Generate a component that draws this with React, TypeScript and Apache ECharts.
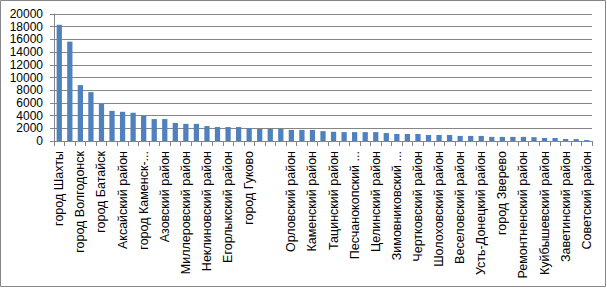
import React, { useEffect, useRef } from "react";
import * as echarts from "echarts";

const categories: string[] = [
  "город Шахты",
  "город Новошахтинск",
  "город Волгодонск",
  "Белокалитвинский район",
  "город Батайск",
  "Сальский район",
  "Аксайский район",
  "Красносулинский район",
  "город Каменск-Шахтинский",
  "Мясниковский район",
  "Азовский район",
  "Октябрьский район",
  "Миллеровский район",
  "Семикаракорский район",
  "Неклиновский район",
  "Зерноградский район",
  "Егорлыкский район",
  "Пролетарский район",
  "город Гуково",
  "Морозовский район",
  "",
  "Цимлянский район",
  "Орловский район",
  "Мартыновский район",
  "Каменский район",
  "Кагальницкий район",
  "Тацинский район",
  "Тарасовский район",
  "Песчанокопский район",
  "Багаевский район",
  "Целинский район",
  "Кашарский район",
  "Зимовниковский район",
  "Константиновский район",
  "Чертковский район",
  "Верхнедонской район",
  "Шолоховский район",
  "Дубовский район",
  "Веселовский район",
  "Боковский район",
  "Усть-Донецкий район",
  "Обливский район",
  "город Зверево",
  "Милютинский район",
  "Ремонтненский район",
  "Волгодонской район",
  "Куйбышевский район",
  "Матвеево-Курганский район",
  "Заветинский район",
  "город Донецк",
  "Советский район",
];

const values: number[] = [
  18300, 15650, 8800, 7700, 5850, 4750, 4600, 4450, 3950, 3450,
  3450, 2850, 2700, 2700, 2350, 2200, 2200, 2200, 2000, 1900,
  1900, 1900, 1750, 1750, 1750, 1550, 1450, 1400, 1400, 1400,
  1400, 1250, 1100, 1100, 1100, 950, 950, 950, 800, 800,
  800, 650, 650, 650, 650, 600, 480, 470, 320, 300,
  150,
];

const yMin = 0;
const yMax = 20000;
const yStep = 2000;

function shorten(v: string): string {
  if (v.length < 20) return v;
  const h = v.lastIndexOf("-");
  const s = v.lastIndexOf(" ");
  if (h > s) return v.slice(0, h + 1) + "...";
  return v.slice(0, s) + " ...";
}

export default function App() {
  const ref = useRef<HTMLDivElement>(null);
  useEffect(() => {
    if (!ref.current) return;
    const chart = echarts.init(ref.current, null, { renderer: "svg" });
    const font = "'Liberation Sans', Arial, sans-serif";
    chart.setOption({
      animation: false,
      backgroundColor: "#ffffff",
      grid: { left: 54, right: 15, top: 14, bottom: 148 },
      graphic: [
        {
          type: "rect",
          shape: { x: 0.5, y: 0.5, width: 605, height: 286 },
          style: { fill: "none", stroke: "#868686", lineWidth: 1 },
          silent: true,
        },
      ],
      xAxis: {
        type: "category",
        data: categories,
        boundaryGap: true,
        axisLine: { show: true, lineStyle: { color: "#868686", width: 1 } },
        axisTick: { show: true, interval: 0, length: 5, lineStyle: { color: "#868686" } },
        axisLabel: {
          interval: 1,
          rotate: 90,
          margin: 10,
          fontSize: 12.5,
          fontFamily: font,
          color: "#000000",
          formatter: (v: string) => shorten(v),
        },
        splitLine: { show: false },
      },
      yAxis: {
        type: "value",
        min: yMin,
        max: yMax,
        interval: yStep,
        axisLine: { show: true, lineStyle: { color: "#868686", width: 1 } },
        axisTick: { show: true, length: 4, lineStyle: { color: "#868686" } },
        axisLabel: {
          margin: 11,
          fontSize: 12,
          fontFamily: font,
          color: "#000000",
          formatter: (v: number) => String(v),
        },
        splitLine: { show: true, lineStyle: { color: "#868686", width: 1 } },
      },
      series: [
        {
          type: "bar",
          data: values,
          barCategoryGap: "50%",
          itemStyle: { color: "#4F81BD" },
        },
      ],
    });
    return () => chart.dispose();
  }, []);
  return (
    <div
      ref={ref}
      style={{ position: "fixed", left: 0, top: 0, width: 607, height: 289 }}
    />
  );
}
